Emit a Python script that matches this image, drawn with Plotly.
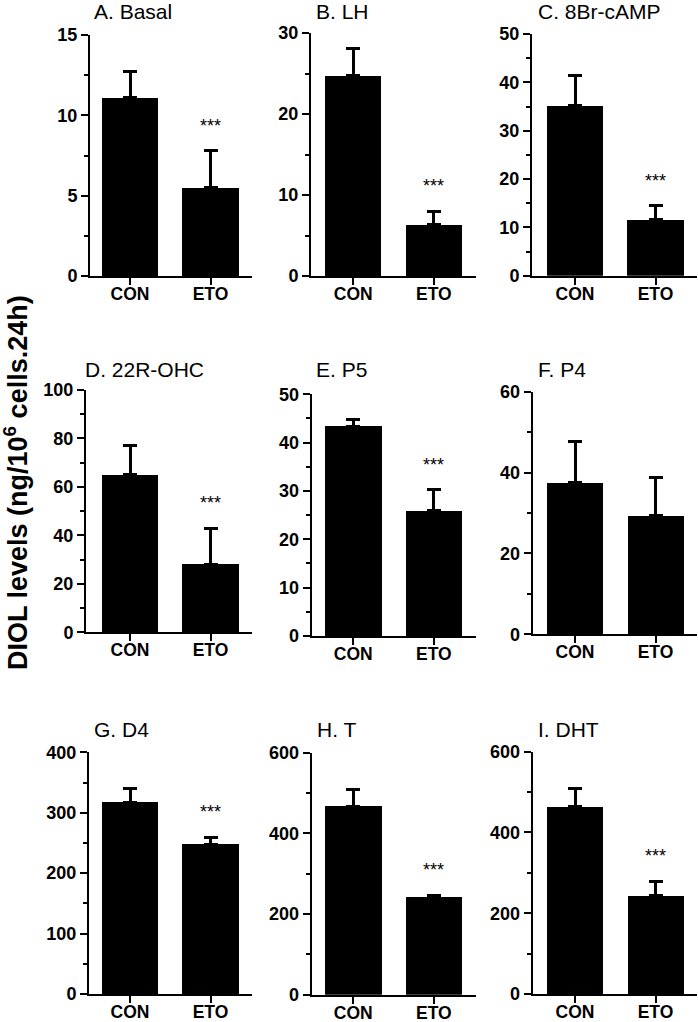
import plotly.graph_objects as go

W, H = 698, 1022

# ---- data ----
panel_titles = ["A. Basal", "B. LH", "C. 8Br-cAMP",
                "D. 22R-OHC", "E. P5", "F. P4",
                "G. D4", "H. T", "I. DHT"]
groups = ["CON", "ETO"]
con_mean = [11.1, 24.7, 35.2, 65.0, 43.4, 37.6, 316.6, 467.8, 464.7]
con_err = [1.6, 3.4, 6.3, 11.9, 1.3, 10.0, 22.7, 41.4, 44.6]
eto_mean = [5.5, 6.3, 11.6, 28.1, 25.9, 29.3, 247.7, 242.2, 243.4]
eto_err = [2.3, 1.7, 2.9, 14.9, 4.4, 9.6, 12.1, 4.8, 35.6]
significant = [True, True, True, True, True, False, True, True, True]
y_max = [15, 30, 50, 100, 50, 60, 400, 600, 600]
y_major = [5, 10, 10, 20, 10, 20, 100, 200, 200]
y_minor = [2.5, 5, 5, 10, 5, 10, 50, 100, 100]
y_title = "DIOL levels (ng/10<sup>6</sup> cells.24h)"
sig_text = "***"

# ---- layout geometry (pixels) ----
col_con_center = [130, 353.3, 575]
unit_px = 80.5
right_units = 1.52
axis_left = [90, 311, 532, 86, 311.7, 532.7, 89, 311.7, 532.7]
axis_top = [35, 33, 34, 390, 394.3, 391.7, 752.3, 752.7, 751.7]
axis_bottom = [276, 276, 275.7, 632.3, 636, 634.3, 994, 994.7, 994]
title_x = [92, 314, 536, 83, 314, 536, 92, 315, 536]
title_y_row = [11, 369.5, 729]

FONT = "Liberation Sans, Arial, sans-serif"

fig = go.Figure()
annotations = []
layout_axes = {}

for i in range(9):
    r, c = divmod(i, 3)
    n = "" if i == 0 else str(i + 1)
    xa, ya = "x" + n, "y" + n
    con_c = col_con_center[c]
    left = axis_left[i]
    right = con_c + right_units * unit_px
    fig.add_trace(go.Bar(
        x=[0, 1], y=[con_mean[i], eto_mean[i]],
        width=0.7,
        marker=dict(color="black", line=dict(width=0)),
        error_y=dict(type="data", symmetric=False,
                     array=[con_err[i], eto_err[i]], arrayminus=[0, 0],
                     color="black", thickness=3, width=7),
        xaxis=xa, yaxis=ya, showlegend=False, hoverinfo="skip",
    ))
    layout_axes["xaxis" + n] = dict(
        domain=[left / W, right / W],
        range=[(left - con_c) / unit_px, right_units],
        tickvals=[0, 1], ticktext=groups,
        showline=True, linecolor="black", linewidth=2,
        ticks="outside", ticklen=7, tickwidth=2, tickcolor="black",
        ticklabelstandoff=-6,
        tickfont=dict(family=FONT, size=17.5, color="black", weight="bold"),
        showgrid=False, zeroline=False, anchor=ya, fixedrange=True,
        automargin=False,
    )
    layout_axes["yaxis" + n] = dict(
        domain=[1 - axis_bottom[i] / H, 1 - axis_top[i] / H],
        range=[0, y_max[i]], dtick=y_major[i], tick0=0,
        showline=True, linecolor="black", linewidth=2,
        ticks="outside", ticklen=7, tickwidth=2, tickcolor="black",
        minor=dict(dtick=y_minor[i], tick0=0, ticks="outside", ticklen=4,
                   tickwidth=2, tickcolor="black", showgrid=False),
        tickfont=dict(family=FONT, size=18, color="black", weight="bold"),
        showgrid=False, zeroline=False, anchor=xa, fixedrange=True,
        automargin=False,
    )
    annotations.append(dict(
        text=panel_titles[i], xref="paper", yref="paper",
        x=title_x[i] / W, y=1 - title_y_row[r] / H,
        xanchor="left", yanchor="middle", showarrow=False,
        font=dict(family=FONT, size=21, color="black"),
    ))
    if significant[i]:
        annotations.append(dict(
            text=sig_text, xref=xa, yref=ya,
            x=1, y=eto_mean[i] + eto_err[i],
            xanchor="center", yanchor="middle", yshift=25,
            showarrow=False,
            font=dict(family=FONT, size=18, color="black"),
        ))

annotations.append(dict(
    text="<b>" + y_title + "</b>", xref="paper", yref="paper",
    x=16 / W, y=1 - 483 / H, xanchor="center", yanchor="middle",
    textangle=-90, showarrow=False,
    font=dict(family=FONT, size=27, color="black"),
))

fig.update_layout(
    width=W, height=H,
    margin=dict(l=0, r=0, t=0, b=0, pad=0),
    paper_bgcolor="white", plot_bgcolor="white",
    annotations=annotations,
    bargap=0,
    **layout_axes,
)

fig.write_html(
    "out.html",
    config={"displayModeBar": False},
    post_script="document.body.style.margin='0';document.body.style.padding='0';",
)
